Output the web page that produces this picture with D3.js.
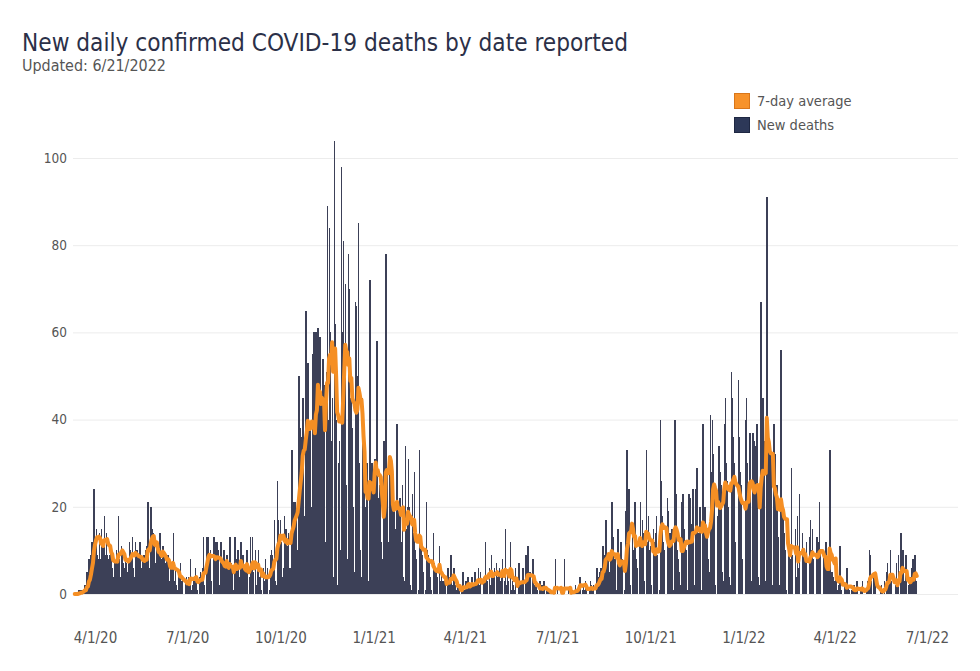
<!DOCTYPE html>
<html><head><meta charset="utf-8">
<script src="https://cdn.jsdelivr.net/npm/d3@7/dist/d3.min.js"></script>
<style>body{margin:0;background:#fff}svg{display:block}</style>
</head><body>
<svg id="chart" width="980" height="671"></svg>
<script>
// ---------------- DATA ----------------
const startDate = "2020-03-12";
// New deaths per day, 3/12/2020 - 12/31/2020
const deaths2020 = [
  0,0,0,0,1,0,1,0,1,1,2,1,5,2,8,4,9,12,10,24,
  12,15,9,8,14,8,15,12,11,18,9,14,9,8,9,10,8,6,4,8,7,10,9,18,8,4,11,10,7,6,
  9,7,5,8,12,10,9,13,6,4,12,10,9,7,12,6,3,8,9,8,10,11,21,5,6,20,15,14,12,7,4,
  11,10,9,14,8,5,11,9,7,6,9,9,3,2,6,7,14,3,6,2,1,5,4,7,3,4,0,0,3,4,
  3,4,2,8,1,2,4,3,6,3,1,0,4,5,4,6,13,2,0,13,13,13,9,10,3,0,13,12,9,12,10,
  2,0,12,8,7,10,6,1,9,3,6,13,7,5,0,1,13,8,6,10,4,0,12,5,9,4,6,2,10,0,4,
  13,6,13,5,0,10,2,7,10,4,5,1,0,6,3,8,4,6,0,1,9,10,9,6,17,3,2,26,17,12,
  17,12,4,6,18,15,15,11,14,6,3,33,21,20,21,18,10,8,50,38,35,36,45,18,10,65,51,53,30,38,20,
  20,55,60,35,60,45,61,5,59,40,45,54,48,12,51,89,40,84,60,35,45,4,104,62,40,2,30,35,10,98,
  60,81,45,71,25,8,78,70,45,50,38,20,5,67,66,50,85,30,10,4,45,30,25,20,30,0,3,72,18,30,25
];
// New deaths per day, 2021
const deaths2021 = [
  15,31,20,58,20,22,25,12,8,2,35,35,78,29,12,3,28,29,18,25,20,15,2,39,19,18,22,12,25,4,3,
  34,15,20,31,20,2,1,23,14,28,10,8,0,1,33,12,11,9,5,0,1,21,10,9,7,4,1,0,
  14,7,6,5,4,0,11,3,5,3,3,2,0,0,6,4,3,9,2,0,6,2,1,0,2,2,0,0,1,5,1,
  1,3,0,4,2,1,2,4,2,0,5,2,3,6,2,5,0,0,4,3,12,4,3,0,6,2,9,5,4,6,
  0,7,4,5,6,3,4,8,0,3,15,2,5,3,0,12,1,3,2,1,6,0,0,7,1,3,2,6,0,0,9,
  2,11,3,5,0,0,8,1,2,2,1,0,0,3,1,2,1,3,0,0,1,0,1,0,1,0,0,0,8,0,
  1,0,0,0,1,0,0,8,0,0,0,1,0,1,0,1,0,0,2,1,1,2,4,4,0,1,2,1,3,1,0,
  0,1,3,2,1,2,0,0,6,3,4,5,6,0,11,7,9,17,7,8,5,2,9,21,13,6,8,0,1,15,7,
  9,12,8,0,0,1,19,33,20,24,2,0,15,10,21,21,8,6,0,13,21,12,17,14,3,0,33,12,18,10,
  11,2,0,15,12,14,18,9,0,1,40,26,18,12,10,0,0,22,19,14,14,15,1,0,40,23,10,8,5,0,2,
  21,23,15,12,10,1,0,23,22,16,12,24,0,2,24,29,14,12,20,1,0,39,18,20,0,14,8,5,41,28,
  40,32,22,2,0,18,34,34,28,25,5,3,39,45,30,26,20,4,2,51,45,36,30,12,0,0,49,36,28,25,8
];
// New deaths per day, 1/1/2022 - 6/21/2022
const deaths2022 = [
  0,0,40,45,30,25,37,3,1,37,35,25,34,39,4,0,2,67,41,45,35,3,1,91,35,34,30,32,2,1,39,
  32,24,25,13,2,0,56,20,19,14,10,1,0,17,12,8,29,9,0,0,15,4,18,6,23,0,0,14,
  10,9,8,12,0,0,13,17,10,15,8,0,0,13,13,12,21,10,0,0,9,8,12,5,6,0,33,2,5,4,3,
  2,8,0,1,2,11,1,0,0,0,2,1,6,2,1,0,0,1,1,2,1,1,3,0,0,1,1,3,0,0,
  0,1,3,2,10,9,3,0,4,4,3,0,0,0,0,1,2,1,0,3,0,5,7,2,4,10,3,0,0,0,2,
  7,2,9,0,14,0,10,3,1,9,0,0,2,4,3,6,8,0,9,3,0
];
const xTickDates = ["2020-04-01","2020-07-01","2020-10-01","2021-01-01","2021-04-01","2021-07-01","2021-10-01","2022-01-01","2022-04-01","2022-07-01"];
const xTickLabels = ["4/1/20","7/1/20","10/1/20","1/1/21","4/1/21","7/1/21","10/1/21","1/1/22","4/1/22","7/1/22"];
const yTicks = [0,20,40,60,80,100];
const titleText = "New daily confirmed COVID-19 deaths by date reported";
const subtitleText = "Updated: 6/21/2022";
const legendLabels = ["7-day average","New deaths"];

// ---------------- BUILD ----------------
const parse = d3.utcParse("%Y-%m-%d");
const values = deaths2020.concat(deaths2021, deaths2022);
const t0 = parse(startDate);
const data = values.map((v,i)=>({date:d3.utcDay.offset(t0,i), value:v}));
data.forEach((d,i)=>{ d.avg = d3.sum(values.slice(Math.max(0,i-6), i+1))/7; });

const FONT = "'DejaVu Sans Condensed','DejaVu Sans',sans-serif";
const svg = d3.select("#chart").style("font-family",FONT);

const x = d3.scaleUtc()
  .domain([new Date(Date.UTC(2020,2,10,7)), new Date(Date.UTC(2022,6,31,17))])
  .range([73, 958]);
const y = d3.scaleLinear().domain([0,100]).range([594,158]);
const step = x(d3.utcDay.offset(t0,1)) - x(t0);

// gridlines
svg.append("g").selectAll("line").data(yTicks).join("line")
  .attr("x1",73).attr("x2",958)
  .attr("y1",d=>y(d)+0.5).attr("y2",d=>y(d)+0.5)
  .attr("stroke","#ececec").attr("stroke-width",1);

// bars
svg.append("g").attr("shape-rendering","crispEdges")
  .selectAll("rect").data(data).join("rect")
  .attr("x",d=>x(d.date)-step*0.5)
  .attr("width",step*1.45)
  .attr("y",d=>y(d.value))
  .attr("height",d=>y(0)-y(d.value))
  .attr("fill","#3c4057");

// 7-day average line
svg.append("path").datum(data)
  .attr("fill","none").attr("stroke","#f58f24").attr("stroke-width",4)
  .attr("stroke-linejoin","round").attr("stroke-linecap","round")
  .attr("d", d3.line().x(d=>x(d.date)).y(d=>y(d.avg)));

// y axis
const yAxis = svg.append("g").attr("transform","translate(73,0)")
  .call(d3.axisLeft(y).tickValues(yTicks).tickSize(0).tickPadding(6).tickFormat(d3.format("d")));
yAxis.select(".domain").remove();
yAxis.selectAll("text").attr("fill","#555").style("font-size","13.5px").style("font-family",FONT);

// x axis
const xAxis = svg.append("g").attr("transform","translate(0,632)")
  .call(d3.axisBottom(x).tickValues(xTickDates.map(parse)).tickSize(0).tickPadding(0)
    .tickFormat((d,i)=>xTickLabels[i]));
xAxis.select(".domain").remove();
xAxis.selectAll("text").attr("fill","#555").style("font-size","15px").style("font-family",FONT);

// fit helper: scale font so the text spans the target width
function fitText(sel, size, target){
  sel.style("font-size", size+"px");
  const len = sel.node().getComputedTextLength();
  if (len > 0) sel.style("font-size", (size*target/len).toFixed(2)+"px");
}

// title
const title = svg.append("text").attr("x",22).attr("y",51).text(titleText).attr("fill","#2b3048");
fitText(title, 25, 606);
const sub = svg.append("text").attr("x",22).attr("y",71).text(subtitleText).attr("fill","#555");
fitText(sub, 15, 144);

// legend
const lg = svg.append("g");
const legendColors = [["#f7922a","#d9761a"],["#2d3858","#1e2742"]];
legendLabels.forEach((lab,i)=>{
  const yy = 93.5 + i*24;
  lg.append("rect").attr("x",734.5).attr("y",yy).attr("width",15).attr("height",15)
    .attr("fill",legendColors[i][0]).attr("stroke",legendColors[i][1]).attr("stroke-width",1);
  lg.append("text").attr("x",757).attr("y",yy+12.5).text(lab)
    .attr("fill","#555").style("font-size","14.5px");
});
</script>
</body></html>
